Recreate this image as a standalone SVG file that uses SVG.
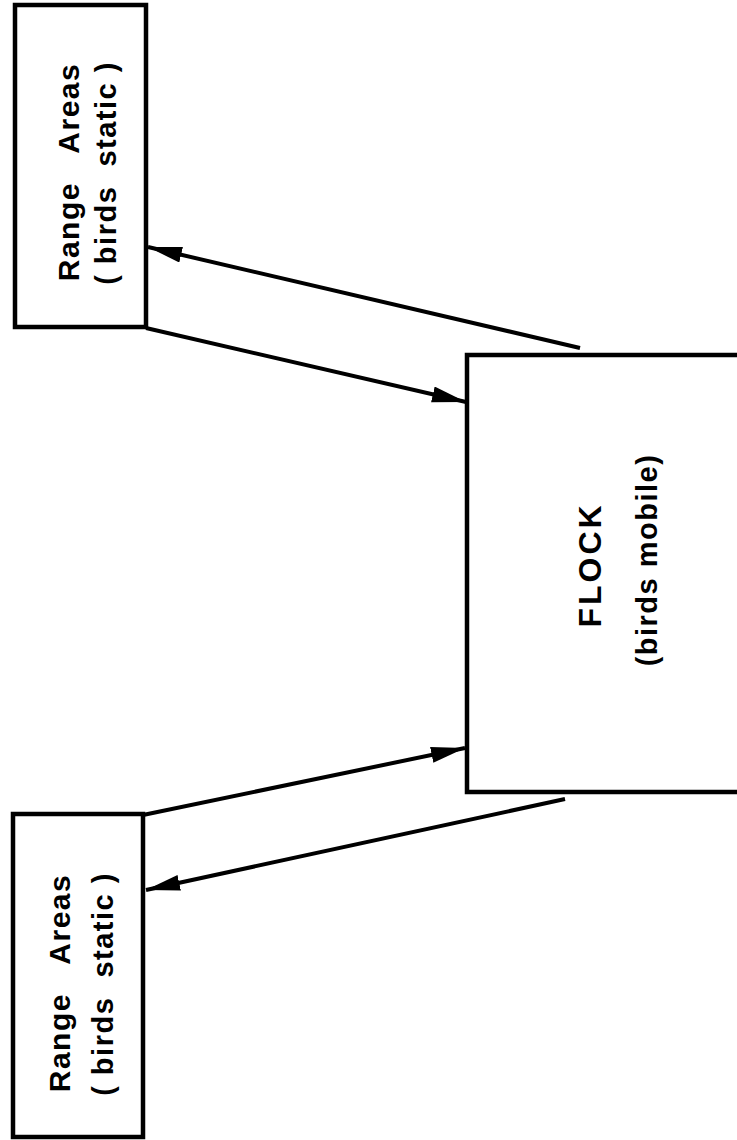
<svg xmlns="http://www.w3.org/2000/svg" width="737" height="1140" viewBox="0 0 737 1140">
<style>
.box{fill:#fff;stroke:#000;stroke-width:4.5}
.t{font-family:"Liberation Sans",Arial,sans-serif;font-weight:bold;fill:#000;text-anchor:middle;white-space:pre}
.big{font-size:30px;letter-spacing:1.5px}
.small{font-size:29px;letter-spacing:1.5px}
.conn line{stroke:#000;stroke-width:4;fill:none;marker-end:url(#ah)}
</style>
<defs>
<marker id="ah" markerUnits="userSpaceOnUse" markerWidth="36" markerHeight="18" refX="34" refY="8" orient="auto">
<path d="M0,0 L34,8 L0,16 Z" fill="#000"/>
</marker>
</defs>
<rect width="737" height="1140" fill="#fff"/>
<g id="range-top">
<rect class="box" x="15" y="5" width="131" height="322"/>
<text class="t big" transform="translate(79,172) rotate(-90)">Range   Areas</text>
<text class="t small" transform="translate(116,173) rotate(-90)">( birds  static )</text>
</g>
<g id="range-bottom">
<rect class="box" x="13" y="814" width="130" height="323"/>
<text class="t big" transform="translate(70,983) rotate(-90)">Range   Areas</text>
<text class="t small" transform="translate(113,984) rotate(-90)">( birds  static )</text>
</g>
<g id="flock">
<rect class="box" x="467" y="355" width="280" height="437"/>
<text class="t" transform="translate(601,565) rotate(-90)" style="font-size:32px;letter-spacing:3px">FLOCK</text>
<text class="t small" transform="translate(657,560) rotate(-90)">(birds mobile)</text>
</g>
<g id="connectors" class="conn">
<line x1="580" y1="348" x2="148" y2="247"/>
<line x1="146" y1="328" x2="466" y2="402"/>
<line x1="143" y1="815" x2="465" y2="748"/>
<line x1="565" y1="799" x2="146" y2="890"/>
</g>
</svg>
